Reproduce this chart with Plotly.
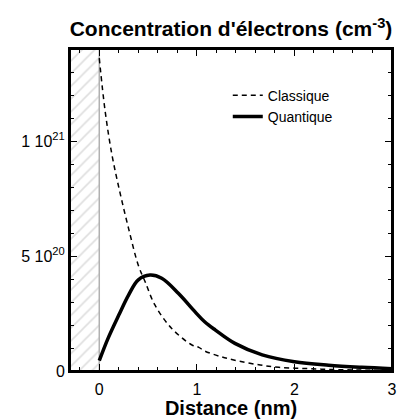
import plotly.graph_objects as go

# Classique (dashed) curve
x_classique = [0.0, 0.06, 0.13, 0.21, 0.30, 0.40, 0.47, 0.57, 0.74, 0.95, 1.02, 1.08,
               1.25, 1.43, 1.65, 1.84, 2.1, 2.35, 2.6, 2.8, 3.0]
y_classique = [1.36e21, 1.13e21, 9.4e20, 7.8e20, 6.2e20, 4.6e20, 3.88e20, 2.87e20, 1.86e20,
               1.13e20, 1.03e20, 8.7e19, 6.2e19, 4.3e19, 2.6e19, 1.6e19, 1.1e19, 7e18,
               4.5e18, 3e18, 2e18]

# Quantique (solid) curve
x_quantique = [0.0, 0.09, 0.2, 0.3, 0.4, 0.52, 0.64, 0.81, 0.98, 1.08, 1.19, 1.39,
               1.67, 2.0, 2.35, 2.69, 3.0]
y_quantique = [4.5e19, 1.42e20, 2.43e20, 3.3e20, 3.96e20, 4.17e20, 4.03e20, 3.38e20,
               2.58e20, 2.14e20, 1.78e20, 1.2e20, 7e19, 4e19, 2.5e19, 1.6e19, 1e19]

x_range = [-0.3, 3.0]
y_range = [0, 1.4e21]
y_tickvals = [0, 5e20, 1e21]
y_ticktext = ["0", "5 10<sup>20</sup>", "1 10<sup>21</sup>"]
x_tickvals = [0, 1, 2, 3]
x_minor_step = 0.2
y_minor_step = 1e20

font_family = "Liberation Sans, Arial, sans-serif"

fig = go.Figure()

# hatched metal region
fig.add_trace(go.Scatter(
    x=[x_range[0], 0, 0, x_range[0], x_range[0]],
    y=[y_range[0], y_range[0], y_range[1], y_range[1], y_range[0]],
    mode="lines", line=dict(width=0), fill="toself",
    fillcolor="rgba(0,0,0,0)",
    fillpattern=dict(shape="/", fgcolor="#bdbdbd", bgcolor="white", size=9, solidity=0.18),
    showlegend=False, hoverinfo="skip"))
fig.add_trace(go.Scatter(
    x=[0, 0], y=y_range, mode="lines", line=dict(color="#b0b0b0", width=1.5),
    showlegend=False, hoverinfo="skip"))

fig.add_trace(go.Scatter(
    x=x_classique, y=y_classique, mode="lines", name="Classique",
    line=dict(color="black", width=1.5, dash="5px,4px", shape="spline")))
fig.add_trace(go.Scatter(
    x=x_quantique, y=y_quantique, mode="lines", name="Quantique",
    line=dict(color="black", width=3.5, shape="spline")))

# invisible trace for minor-tick overlay axes
fig.add_trace(go.Scatter(x=[x_range[0]], y=[y_range[0]], xaxis="x2", yaxis="y2",
                         mode="markers", marker=dict(opacity=0), showlegend=False,
                         hoverinfo="skip"))

fig.update_layout(
    width=401, height=419,
    margin=dict(l=70, r=9, t=49, b=48, autoexpand=False),
    paper_bgcolor="white", plot_bgcolor="white",
    font=dict(family=font_family, size=16, color="black"),
    title=dict(text="<b>Concentration d'électrons (cm<sup>-3</sup>)</b>",
               x=0.5, xref="paper", xanchor="center", y=1 - 29 / 419, yref="container",
               yanchor="middle",
               font=dict(size=21, family=font_family, color="black")),
    legend=dict(x=0.49, y=0.905, xanchor="left", yanchor="top",
                bgcolor="rgba(0,0,0,0)", font=dict(size=14), tracegroupgap=0),
    showlegend=True,
    shapes=[dict(type="rect", xref="paper", yref="paper", x0=0, x1=1, y0=0, y1=1,
                 line=dict(color="black", width=2), fillcolor="rgba(0,0,0,0)",
                 layer="above")],
    xaxis=dict(
        range=x_range, tickmode="array", tickvals=x_tickvals, ticks="inside", ticklen=7,
        tickwidth=1, tickcolor="black", showline=True, linecolor="black", linewidth=2,
        mirror="allticks", showgrid=False, zeroline=False, ticklabelstandoff=3,
        automargin=False,
        title=dict(text="<b>Distance (nm)</b>", font=dict(size=20), standoff=6),
        tickfont=dict(size=16)),
    yaxis=dict(
        range=y_range, tickmode="array", tickvals=y_tickvals, ticktext=y_ticktext,
        ticks="inside", ticklen=7, tickwidth=1, tickcolor="black", showline=True,
        linecolor="black", linewidth=2, mirror="allticks", showgrid=False, zeroline=False,
        automargin=False, tickfont=dict(size=16)),
    xaxis2=dict(
        range=x_range, overlaying="x", anchor="y", side="bottom", tickmode="linear",
        tick0=0, dtick=x_minor_step, ticks="inside", ticklen=4, tickwidth=1,
        tickcolor="black", showticklabels=False, showline=False, mirror="allticks",
        showgrid=False, zeroline=False, automargin=False),
    yaxis2=dict(
        range=y_range, overlaying="y", anchor="x", side="left", tickmode="linear",
        tick0=0, dtick=y_minor_step, ticks="inside", ticklen=4, tickwidth=1,
        tickcolor="black", showticklabels=False, showline=False, mirror="allticks",
        showgrid=False, zeroline=False, automargin=False),
)

fig.write_html("out.html", config={"displayModeBar": False},
               post_script="document.body.style.margin='0';")
